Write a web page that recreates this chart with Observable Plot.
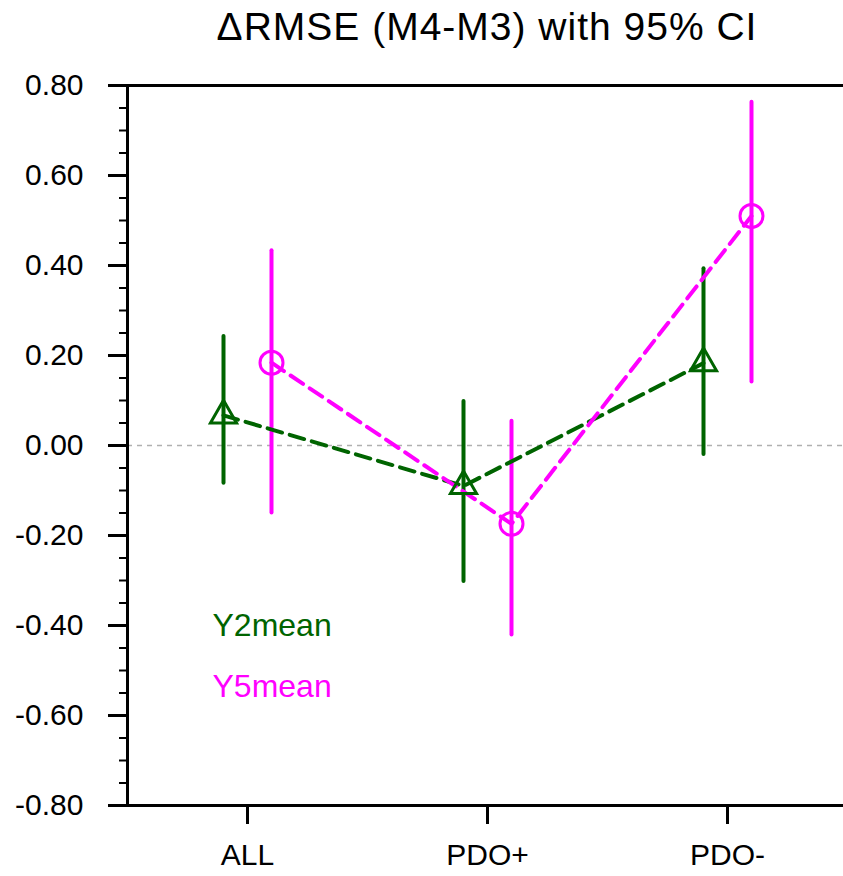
<!DOCTYPE html>
<html>
<head>
<meta charset="utf-8">
<script src="https://cdn.jsdelivr.net/npm/d3@7"></script>
<script src="https://cdn.jsdelivr.net/npm/@observablehq/plot@0.6"></script>
<style>
  body { margin: 0; background: white; font-family: "Liberation Sans", Arial, Helvetica, sans-serif; }
  #title { height: 60px; width: 843px; box-sizing: border-box; padding-left: 131px; text-align: center;
           font-size: 39px; letter-spacing: 1px; line-height: 54px; color: black; }
</style>
</head>
<body>
<div id="title">ΔRMSE (M4-M3) with 95% CI</div>
<div id="chart"></div>
<script>
const categories = ["ALL", "PDO+", "PDO-"];
const y2mean = [0.067, -0.090, 0.183];
const y2lo   = [-0.084, -0.302, -0.020];
const y2hi   = [0.242, 0.098, 0.393];
const y5mean = [0.184, -0.174, 0.510];
const y5lo   = [-0.150, -0.421, 0.141];
const y5hi   = [0.433, 0.054, 0.763];
const majorTicks = [-0.8, -0.6, -0.4, -0.2, 0, 0.2, 0.4, 0.6, 0.8];
const minorTicks = [-0.75, -0.7, -0.65, -0.55, -0.5, -0.45, -0.35, -0.3, -0.25, -0.15, -0.1, -0.05,
                    0.05, 0.1, 0.15, 0.25, 0.3, 0.35, 0.45, 0.5, 0.55, 0.65, 0.7, 0.75];
const seriesNames = ["Y2mean", "Y5mean"];

const green = "#006400", magenta = "#ff00ff";
const y2 = categories.map((c, i) => ({cat: c, v: y2mean[i], lo: y2lo[i], hi: y2hi[i]}));
const y5 = categories.map((c, i) => ({cat: c, v: y5mean[i], lo: y5lo[i], hi: y5hi[i]}));

const chart = Plot.plot({
  width: 843,
  height: 816,
  marginTop: 25,
  marginBottom: 71,
  marginLeft: 127,
  marginRight: -4,
  x: {type: "point", domain: categories, padding: 0.5},
  y: {domain: [-0.8, 0.8]},
  style: {fontFamily: '"Liberation Sans", Arial, Helvetica, sans-serif', color: "black", background: "white"},
  marks: [
    Plot.ruleY([0], {stroke: "#b0b0b0", strokeWidth: 1.5, strokeDasharray: "5,5"}),
    Plot.ruleX(y2, {x: "cat", y1: "lo", y2: "hi", dx: -24, stroke: green, strokeWidth: 4, strokeLinecap: "round"}),
    Plot.ruleX(y5, {x: "cat", y1: "lo", y2: "hi", dx: 24, stroke: magenta, strokeWidth: 4, strokeLinecap: "round"}),
    Plot.line(y2, {x: "cat", y: "v", dx: -24, stroke: green, strokeWidth: 4, strokeDasharray: "15,8"}),
    Plot.line(y5, {x: "cat", y: "v", dx: 24, stroke: magenta, strokeWidth: 4, strokeDasharray: "15,8"}),
    Plot.dot(y2, {x: "cat", y: "v", dx: -24, symbol: "triangle", r: 9.7, stroke: green, strokeWidth: 3, fill: "none"}),
    Plot.dot(y5, {x: "cat", y: "v", dx: 24, symbol: "circle", r: 11.5, stroke: magenta, strokeWidth: 3, fill: "none"}),
    Plot.text([seriesNames[0]], {text: d => d, frameAnchor: "top-left", dx: 85, dy: 540, textAnchor: "start", lineAnchor: "middle", fontSize: 32, fill: green}),
    Plot.text([seriesNames[1]], {text: d => d, frameAnchor: "top-left", dx: 85, dy: 601, textAnchor: "start", lineAnchor: "middle", fontSize: 32, fill: magenta}),
    Plot.axisY(minorTicks, {tickSize: 8, tickFormat: () => "", strokeWidth: 2, label: null}),
    Plot.axisY(majorTicks, {tickSize: 19, tickPadding: 25, tickFormat: d => d.toFixed(2), fontSize: 30, strokeWidth: 3, label: null}),
    Plot.axisX({tickSize: 19, tickPadding: 19, fontSize: 30, strokeWidth: 3, label: null}),
    Plot.frame({stroke: "black", strokeWidth: 3})
  ]
});
document.getElementById("chart").appendChild(chart);
</script>
</body>
</html>
